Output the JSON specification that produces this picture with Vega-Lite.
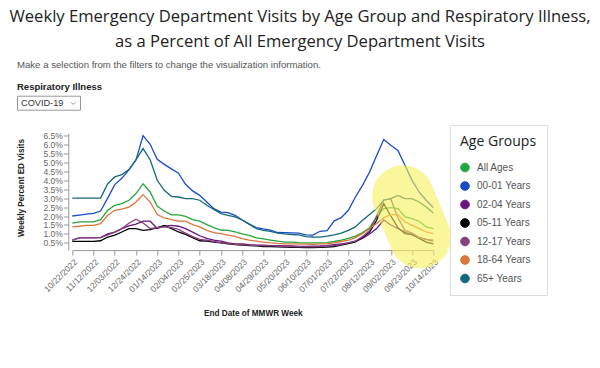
{
  "$schema": "https://vega.github.io/schema/vega-lite/v6.json",
  "background": "white",
  "autosize": {"type": "none"},
  "width": 361, "height": 116.6,
  "padding": {"left": 72.3, "top": 133.5, "right": 166.7, "bottom": 117.9},
  "config": {"view": {"stroke": null}, "font": "Liberation Sans", "axis": {"labelOverlap": false}},
  "title": {
    "text": ["Weekly Emergency Department Visits by Age Group and Respiratory Illness,", "as a Percent of All Emergency Department Visits"],
    "font": "Open Sans", "fontSize": 16.6, "fontWeight": "normal", "color": "#222",
    "anchor": "middle", "frame": "group", "lineHeight": 25, "dx": 47.2, "offset": 9
  },
  "layer": [
    {
      "data": {"values": [
        {"date":"2022-10-22","All Ages":1.6,"00-01 Years":2.0,"02-04 Years":0.65,"05-11 Years":0.59,"12-17 Years":0.65,"18-64 Years":1.4,"65+ Years":3.0},
        {"date":"2022-10-29","All Ages":1.67,"00-01 Years":2.05,"02-04 Years":0.78,"05-11 Years":0.59,"12-17 Years":0.8,"18-64 Years":1.43,"65+ Years":3.0},
        {"date":"2022-11-05","All Ages":1.67,"00-01 Years":2.1,"02-04 Years":0.78,"05-11 Years":0.59,"12-17 Years":0.8,"18-64 Years":1.48,"65+ Years":3.0},
        {"date":"2022-11-12","All Ages":1.67,"00-01 Years":2.15,"02-04 Years":0.78,"05-11 Years":0.59,"12-17 Years":0.8,"18-64 Years":1.48,"65+ Years":3.0},
        {"date":"2022-11-19","All Ages":1.8,"00-01 Years":2.28,"02-04 Years":0.8,"05-11 Years":0.62,"12-17 Years":0.8,"18-64 Years":1.58,"65+ Years":3.0},
        {"date":"2022-11-26","All Ages":2.32,"00-01 Years":3.0,"02-04 Years":1.0,"05-11 Years":0.83,"12-17 Years":0.95,"18-64 Years":2.04,"65+ Years":3.8},
        {"date":"2022-12-03","All Ages":2.6,"00-01 Years":3.75,"02-04 Years":1.1,"05-11 Years":0.93,"12-17 Years":1.1,"18-64 Years":2.32,"65+ Years":4.18},
        {"date":"2022-12-10","All Ages":2.69,"00-01 Years":4.1,"02-04 Years":1.3,"05-11 Years":1.11,"12-17 Years":1.3,"18-64 Years":2.39,"65+ Years":4.31},
        {"date":"2022-12-17","All Ages":2.88,"00-01 Years":4.57,"02-04 Years":1.45,"05-11 Years":1.3,"12-17 Years":1.6,"18-64 Years":2.5,"65+ Years":4.59},
        {"date":"2022-12-24","All Ages":3.25,"00-01 Years":5.12,"02-04 Years":1.55,"05-11 Years":1.3,"12-17 Years":1.82,"18-64 Years":2.78,"65+ Years":5.14},
        {"date":"2022-12-31","All Ages":3.8,"00-01 Years":6.48,"02-04 Years":1.71,"05-11 Years":1.2,"12-17 Years":1.61,"18-64 Years":3.19,"65+ Years":5.76},
        {"date":"2023-01-07","All Ages":3.34,"00-01 Years":6.0,"02-04 Years":1.71,"05-11 Years":1.24,"12-17 Years":1.3,"18-64 Years":2.78,"65+ Years":5.14},
        {"date":"2023-01-14","All Ages":2.54,"00-01 Years":5.16,"02-04 Years":1.3,"05-11 Years":1.35,"12-17 Years":1.35,"18-64 Years":2.08,"65+ Years":3.99},
        {"date":"2023-01-21","All Ages":2.28,"00-01 Years":4.88,"02-04 Years":1.43,"05-11 Years":1.48,"12-17 Years":1.4,"18-64 Years":1.89,"65+ Years":3.43},
        {"date":"2023-01-28","All Ages":2.06,"00-01 Years":4.63,"02-04 Years":1.48,"05-11 Years":1.3,"12-17 Years":1.35,"18-64 Years":1.8,"65+ Years":3.1},
        {"date":"2023-02-04","All Ages":2.06,"00-01 Years":4.39,"02-04 Years":1.43,"05-11 Years":1.11,"12-17 Years":1.25,"18-64 Years":1.71,"65+ Years":3.06},
        {"date":"2023-02-11","All Ages":1.98,"00-01 Years":3.77,"02-04 Years":1.3,"05-11 Years":0.98,"12-17 Years":1.05,"18-64 Years":1.71,"65+ Years":2.97},
        {"date":"2023-02-18","All Ages":1.8,"00-01 Years":3.4,"02-04 Years":1.1,"05-11 Years":0.8,"12-17 Years":0.85,"18-64 Years":1.52,"65+ Years":2.97},
        {"date":"2023-02-25","All Ages":1.71,"00-01 Years":3.15,"02-04 Years":0.9,"05-11 Years":0.62,"12-17 Years":0.7,"18-64 Years":1.39,"65+ Years":2.88},
        {"date":"2023-03-04","All Ages":1.52,"00-01 Years":2.78,"02-04 Years":0.75,"05-11 Years":0.6,"12-17 Years":0.65,"18-64 Years":1.2,"65+ Years":2.6},
        {"date":"2023-03-11","All Ages":1.35,"00-01 Years":2.41,"02-04 Years":0.65,"05-11 Years":0.55,"12-17 Years":0.58,"18-64 Years":1.08,"65+ Years":2.36},
        {"date":"2023-03-18","All Ages":1.22,"00-01 Years":2.22,"02-04 Years":0.6,"05-11 Years":0.5,"12-17 Years":0.52,"18-64 Years":1.02,"65+ Years":2.13},
        {"date":"2023-03-25","All Ages":1.2,"00-01 Years":2.19,"02-04 Years":0.5,"05-11 Years":0.45,"12-17 Years":0.48,"18-64 Years":0.93,"65+ Years":2.04},
        {"date":"2023-04-01","All Ages":1.11,"00-01 Years":2.04,"02-04 Years":0.45,"05-11 Years":0.4,"12-17 Years":0.42,"18-64 Years":0.87,"65+ Years":1.95},
        {"date":"2023-04-08","All Ages":1.0,"00-01 Years":1.78,"02-04 Years":0.45,"05-11 Years":0.38,"12-17 Years":0.4,"18-64 Years":0.74,"65+ Years":1.78},
        {"date":"2023-04-15","All Ages":0.92,"00-01 Years":1.55,"02-04 Years":0.4,"05-11 Years":0.35,"12-17 Years":0.38,"18-64 Years":0.65,"65+ Years":1.55},
        {"date":"2023-04-22","All Ages":0.78,"00-01 Years":1.35,"02-04 Years":0.38,"05-11 Years":0.33,"12-17 Years":0.35,"18-64 Years":0.6,"65+ Years":1.3},
        {"date":"2023-04-29","All Ages":0.72,"00-01 Years":1.28,"02-04 Years":0.38,"05-11 Years":0.3,"12-17 Years":0.35,"18-64 Years":0.55,"65+ Years":1.2},
        {"date":"2023-05-06","All Ages":0.66,"00-01 Years":1.22,"02-04 Years":0.35,"05-11 Years":0.3,"12-17 Years":0.33,"18-64 Years":0.5,"65+ Years":1.15},
        {"date":"2023-05-13","All Ages":0.6,"00-01 Years":1.08,"02-04 Years":0.35,"05-11 Years":0.28,"12-17 Years":0.32,"18-64 Years":0.47,"65+ Years":1.05},
        {"date":"2023-05-20","All Ages":0.55,"00-01 Years":1.07,"02-04 Years":0.33,"05-11 Years":0.27,"12-17 Years":0.3,"18-64 Years":0.45,"65+ Years":1.0},
        {"date":"2023-05-27","All Ages":0.55,"00-01 Years":1.06,"02-04 Years":0.33,"05-11 Years":0.25,"12-17 Years":0.3,"18-64 Years":0.45,"65+ Years":0.97},
        {"date":"2023-06-03","All Ages":0.52,"00-01 Years":1.05,"02-04 Years":0.3,"05-11 Years":0.25,"12-17 Years":0.28,"18-64 Years":0.43,"65+ Years":0.95},
        {"date":"2023-06-10","All Ages":0.5,"00-01 Years":0.95,"02-04 Years":0.3,"05-11 Years":0.24,"12-17 Years":0.28,"18-64 Years":0.43,"65+ Years":0.85},
        {"date":"2023-06-17","All Ages":0.5,"00-01 Years":0.94,"02-04 Years":0.32,"05-11 Years":0.24,"12-17 Years":0.28,"18-64 Years":0.42,"65+ Years":0.83},
        {"date":"2023-06-24","All Ages":0.5,"00-01 Years":1.15,"02-04 Years":0.33,"05-11 Years":0.25,"12-17 Years":0.3,"18-64 Years":0.45,"65+ Years":0.82},
        {"date":"2023-07-01","All Ages":0.52,"00-01 Years":1.18,"02-04 Years":0.35,"05-11 Years":0.27,"12-17 Years":0.32,"18-64 Years":0.45,"65+ Years":0.88},
        {"date":"2023-07-08","All Ages":0.58,"00-01 Years":1.73,"02-04 Years":0.4,"05-11 Years":0.3,"12-17 Years":0.35,"18-64 Years":0.5,"65+ Years":0.95},
        {"date":"2023-07-15","All Ages":0.65,"00-01 Years":1.91,"02-04 Years":0.45,"05-11 Years":0.38,"12-17 Years":0.4,"18-64 Years":0.58,"65+ Years":1.05},
        {"date":"2023-07-22","All Ages":0.75,"00-01 Years":2.32,"02-04 Years":0.5,"05-11 Years":0.46,"12-17 Years":0.5,"18-64 Years":0.65,"65+ Years":1.2},
        {"date":"2023-07-29","All Ages":0.88,"00-01 Years":3.06,"02-04 Years":0.6,"05-11 Years":0.56,"12-17 Years":0.6,"18-64 Years":0.8,"65+ Years":1.39},
        {"date":"2023-08-05","All Ages":1.08,"00-01 Years":3.71,"02-04 Years":0.75,"05-11 Years":0.8,"12-17 Years":0.85,"18-64 Years":1.02,"65+ Years":1.76},
        {"date":"2023-08-12","All Ages":1.35,"00-01 Years":4.45,"02-04 Years":1.0,"05-11 Years":1.1,"12-17 Years":1.2,"18-64 Years":1.3,"65+ Years":2.08},
        {"date":"2023-08-19","All Ages":1.95,"00-01 Years":5.38,"02-04 Years":1.3,"05-11 Years":1.76,"12-17 Years":2.0,"18-64 Years":1.58,"65+ Years":2.41},
        {"date":"2023-08-26","All Ages":2.41,"00-01 Years":6.26,"02-04 Years":1.78,"05-11 Years":2.69,"12-17 Years":2.9,"18-64 Years":1.91,"65+ Years":2.88},
        {"date":"2023-09-02","All Ages":2.47,"00-01 Years":5.94,"02-04 Years":1.5,"05-11 Years":2.0,"12-17 Years":2.95,"18-64 Years":2.08,"65+ Years":2.97},
        {"date":"2023-09-09","All Ages":2.41,"00-01 Years":5.66,"02-04 Years":1.3,"05-11 Years":1.35,"12-17 Years":1.9,"18-64 Years":2.08,"65+ Years":3.15},
        {"date":"2023-09-16","All Ages":1.95,"00-01 Years":4.83,"02-04 Years":1.1,"05-11 Years":1.02,"12-17 Years":1.2,"18-64 Years":1.67,"65+ Years":2.97},
        {"date":"2023-09-23","All Ages":1.86,"00-01 Years":3.99,"02-04 Years":0.95,"05-11 Years":0.98,"12-17 Years":1.05,"18-64 Years":1.48,"65+ Years":2.97},
        {"date":"2023-09-30","All Ages":1.71,"00-01 Years":3.34,"02-04 Years":0.8,"05-11 Years":0.75,"12-17 Years":0.8,"18-64 Years":1.3,"65+ Years":2.78},
        {"date":"2023-10-07","All Ages":1.39,"00-01 Years":2.88,"02-04 Years":0.7,"05-11 Years":0.55,"12-17 Years":0.7,"18-64 Years":1.11,"65+ Years":2.5},
        {"date":"2023-10-14","All Ages":1.3,"00-01 Years":2.47,"02-04 Years":0.6,"05-11 Years":0.45,"12-17 Years":0.65,"18-64 Years":1.02,"65+ Years":2.17}
      ]},
      "transform": [{"fold": ["All Ages", "00-01 Years", "02-04 Years", "05-11 Years", "12-17 Years", "18-64 Years", "65+ Years"], "as": ["group", "pct"]}],
      "mark": {"type": "line", "strokeWidth": 1.3},
      "encoding": {
        "x": {
          "field": "date", "type": "temporal",
          "scale": {"type": "utc", "domain": [{"year": 2022, "month": 10, "date": 22, "utc": true}, {"year": 2023, "month": 10, "date": 14, "utc": true}]},
          "axis": {
            "title": "End Date of MMWR Week", "titleFont": "Liberation Sans", "titleFontSize": 8.2, "titleFontWeight": "bold", "titleColor": "#222", "titlePadding": 16,
            "format": "%m/%d/%Y", "labelAngle": -45, "labelFontSize": 8.5, "labelColor": "#666", "labelFont": "Liberation Sans",
            "grid": false, "domainColor": "#999", "tickColor": "#999", "tickSize": 5, "labelPadding": 2, "labelOverlap": false, "tickCount": 60,
            "values": [
              {"year": 2022, "month": 10, "date": 22, "utc": true}, {"year": 2022, "month": 11, "date": 12, "utc": true}, {"year": 2022, "month": 12, "date": 3, "utc": true},
              {"year": 2022, "month": 12, "date": 24, "utc": true}, {"year": 2023, "month": 1, "date": 14, "utc": true}, {"year": 2023, "month": 2, "date": 4, "utc": true},
              {"year": 2023, "month": 2, "date": 25, "utc": true}, {"year": 2023, "month": 3, "date": 18, "utc": true}, {"year": 2023, "month": 4, "date": 8, "utc": true},
              {"year": 2023, "month": 4, "date": 29, "utc": true}, {"year": 2023, "month": 5, "date": 20, "utc": true}, {"year": 2023, "month": 6, "date": 10, "utc": true},
              {"year": 2023, "month": 7, "date": 1, "utc": true}, {"year": 2023, "month": 7, "date": 22, "utc": true}, {"year": 2023, "month": 8, "date": 12, "utc": true},
              {"year": 2023, "month": 9, "date": 2, "utc": true}, {"year": 2023, "month": 9, "date": 23, "utc": true}, {"year": 2023, "month": 10, "date": 14, "utc": true}
            ]
          }
        },
        "y": {
          "field": "pct", "type": "quantitative",
          "scale": {"domain": [0.1, 6.6], "zero": false, "nice": false},
          "axis": {
            "title": "Weekly Percent ED Visits", "titleFont": "Liberation Sans", "titleFontSize": 8.2, "titleFontWeight": "bold", "titleColor": "#222", "titlePadding": 17.5, "titleY": 54,
            "values": [0.5, 1, 1.5, 2, 2.5, 3, 3.5, 4, 4.5, 5, 5.5, 6, 6.5], "tickCount": 60,
            "format": ".1f",
            "labelExpr": "datum.label + '%'",
            "labelFontSize": 8.5, "labelColor": "#666", "labelFont": "Liberation Sans", "labelPadding": 1, "labelOverlap": false,
            "grid": false, "domainColor": "#999", "tickColor": "#999", "tickSize": 5, "offset": 4
          }
        },
        "color": {
          "field": "group", "type": "nominal",
          "scale": {
            "domain": ["All Ages", "00-01 Years", "02-04 Years", "05-11 Years", "12-17 Years", "18-64 Years", "65+ Years"],
            "range": ["#25a63d", "#1a4cc6", "#6a1480", "#000000", "#86407e", "#d9763a", "#13697a"]
          },
          "legend": {
            "title": "Age Groups", "orient": "none", "legendX": 377.7, "legendY": -8.5,
            "titleFont": "Open Sans", "titleFontSize": 14, "titleFontWeight": "normal", "titleColor": "#222", "titlePadding": 13.5,
            "labelFont": "Liberation Sans", "labelFontSize": 10, "labelColor": "#555", "labelOffset": 7,
            "labelExpr": "datum.label + '\u00a0\u00a0\u00a0\u00a0\u00a0\u00a0\u00a0\u00a0\u00a0\u00a0\u00a0\u00a0\u00a0\u00a0\u00a0\u00a0\u00a0\u00a0\u00a0'",
            "symbolType": "circle", "symbolSize": 75, "symbolStrokeWidth": 1, "rowPadding": 4.5,
            "padding": 10, "strokeColor": "#ddd", "fillColor": "white",
            "encode": {"symbols": {"update": {"fill": {"scale": "color", "field": "value"}, "fillOpacity": {"value": 1}}}}
          }
        }
      }
    },
    {
      "data": {"values": [{"date": "2023-09-14", "pct": 3.1}, {"date": "2023-10-01", "pct": 0.81}]},
      "mark": {"type": "line", "strokeWidth": 62, "strokeCap": "round", "color": "#f6f05a", "opacity": 0.6, "clip": false},
      "encoding": {
        "x": {"field": "date", "type": "temporal"},
        "y": {"field": "pct", "type": "quantitative"}
      }
    },
    {
      "data": {"values": [{"illness": "COVID-19", "note": "selection"}]},
      "mark": {"type": "point", "opacity": 0},
      "encoding": {
        "shape": {
          "field": "illness", "type": "nominal",
          "scale": {"range": ["M-1,-0.222H1V0.222H-1Z M0.7,-0.03L0.77,0.04L0.84,-0.03"]},
          "legend": {
            "title": "Respiratory Illness", "orient": "none", "legendX": -55.3, "legendY": -51.3,
            "titleFont": "Liberation Sans", "titleFontSize": 9.5, "titleFontWeight": "bold", "titleColor": "#222", "titlePadding": -20.5,
            "symbolSize": 3969, "symbolStrokeColor": "#999", "symbolFillColor": "white", "symbolStrokeWidth": 1, "symbolOpacity": 1,
            "labelFont": "Liberation Sans", "labelFontSize": 9.2, "labelColor": "#333", "labelOffset": -60, "padding": 0
          }
        },
        "size": {
          "field": "note", "type": "ordinal",
          "legend": {
            "title": "Make a selection from the filters to change the visualization information.", "orient": "none", "legendX": -55.3, "legendY": -74,
            "titleFont": "Liberation Sans", "titleFontSize": 9.6, "titleFontWeight": "normal", "titleColor": "#555", "titleLimit": 500,
            "symbolOpacity": 0, "labelExpr": "''", "padding": 0
          }
        }
      }
    }
  ]
}
